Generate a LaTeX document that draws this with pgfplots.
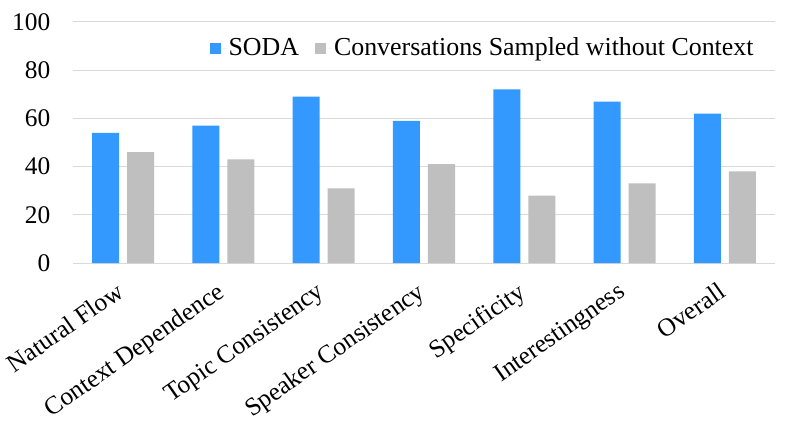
\documentclass[border=0pt]{standalone}
\usepackage{fontspec}
\setmainfont{Liberation Serif}
\usepackage{pgfplots}
\pgfplotsset{compat=1.18}
\definecolor{sodablue}{HTML}{3399FF}
\definecolor{ctxgray}{HTML}{BFBFBF}
\definecolor{gridgray}{HTML}{D9D9D9}
\newcommand{\bigf}{\fontsize{25.5}{30}\selectfont}
\newcommand{\legf}{\fontsize{26}{30}\selectfont}
\begin{document}
\begin{tikzpicture}
\bigf
\begin{axis}[
  at={(0,0)}, anchor=south west,
  scale only axis,
  width=702bp, height=241bp,
  ybar=8bp, bar width=27bp,
  xmin=-0.5, xmax=6.5,
  ymin=0, ymax=100,
  ytick={0,20,40,60,80,100},
  xtick={0,1,2,3,4,5,6},
  xticklabels={Natural Flow,Context Dependence,Topic Consistency,Speaker Consistency,Specificity,Interestingness,Overall},
  xticklabel style={xshift=-8bp, yshift=-18bp, rotate=35, anchor=north east, inner sep=0pt, font=\bigf},
  yticklabel style={font=\bigf, xshift=-14bp},
  /pgf/number format/assume math mode=true,
  major tick length=0pt,
  ymajorgrids, grid style={gridgray, line width=1bp},
  axis x line*=bottom, axis y line*=left,
  x axis line style={gridgray, line width=1bp, -},
  y axis line style={draw=none},
  legend columns=2,
  legend style={draw=none, fill=none, at={(0.19,0.89)}, anchor=west,
     font=\legf, /tikz/every even column/.append style={column sep=14bp}},
  legend image code/.code={\fill[#1] (0bp,-5.5bp) rectangle (11bp,5.5bp); \path (0bp,0bp) -- (17bp,0bp);},
  clip=false,
]
\addplot[fill=sodablue, draw=none] coordinates {(0,54) (1,57) (2,69) (3,59) (4,72) (5,67) (6,62)};
\addplot[fill=ctxgray, draw=none] coordinates {(0,46) (1,43) (2,31) (3,41) (4,28) (5,33) (6,38)};
\legend{SODA,Conversations Sampled without Context}
\end{axis}
\pgfresetboundingbox
\path[use as bounding box] (-73bp,-167bp) rectangle (716bp,263bp);
\end{tikzpicture}
\end{document}
